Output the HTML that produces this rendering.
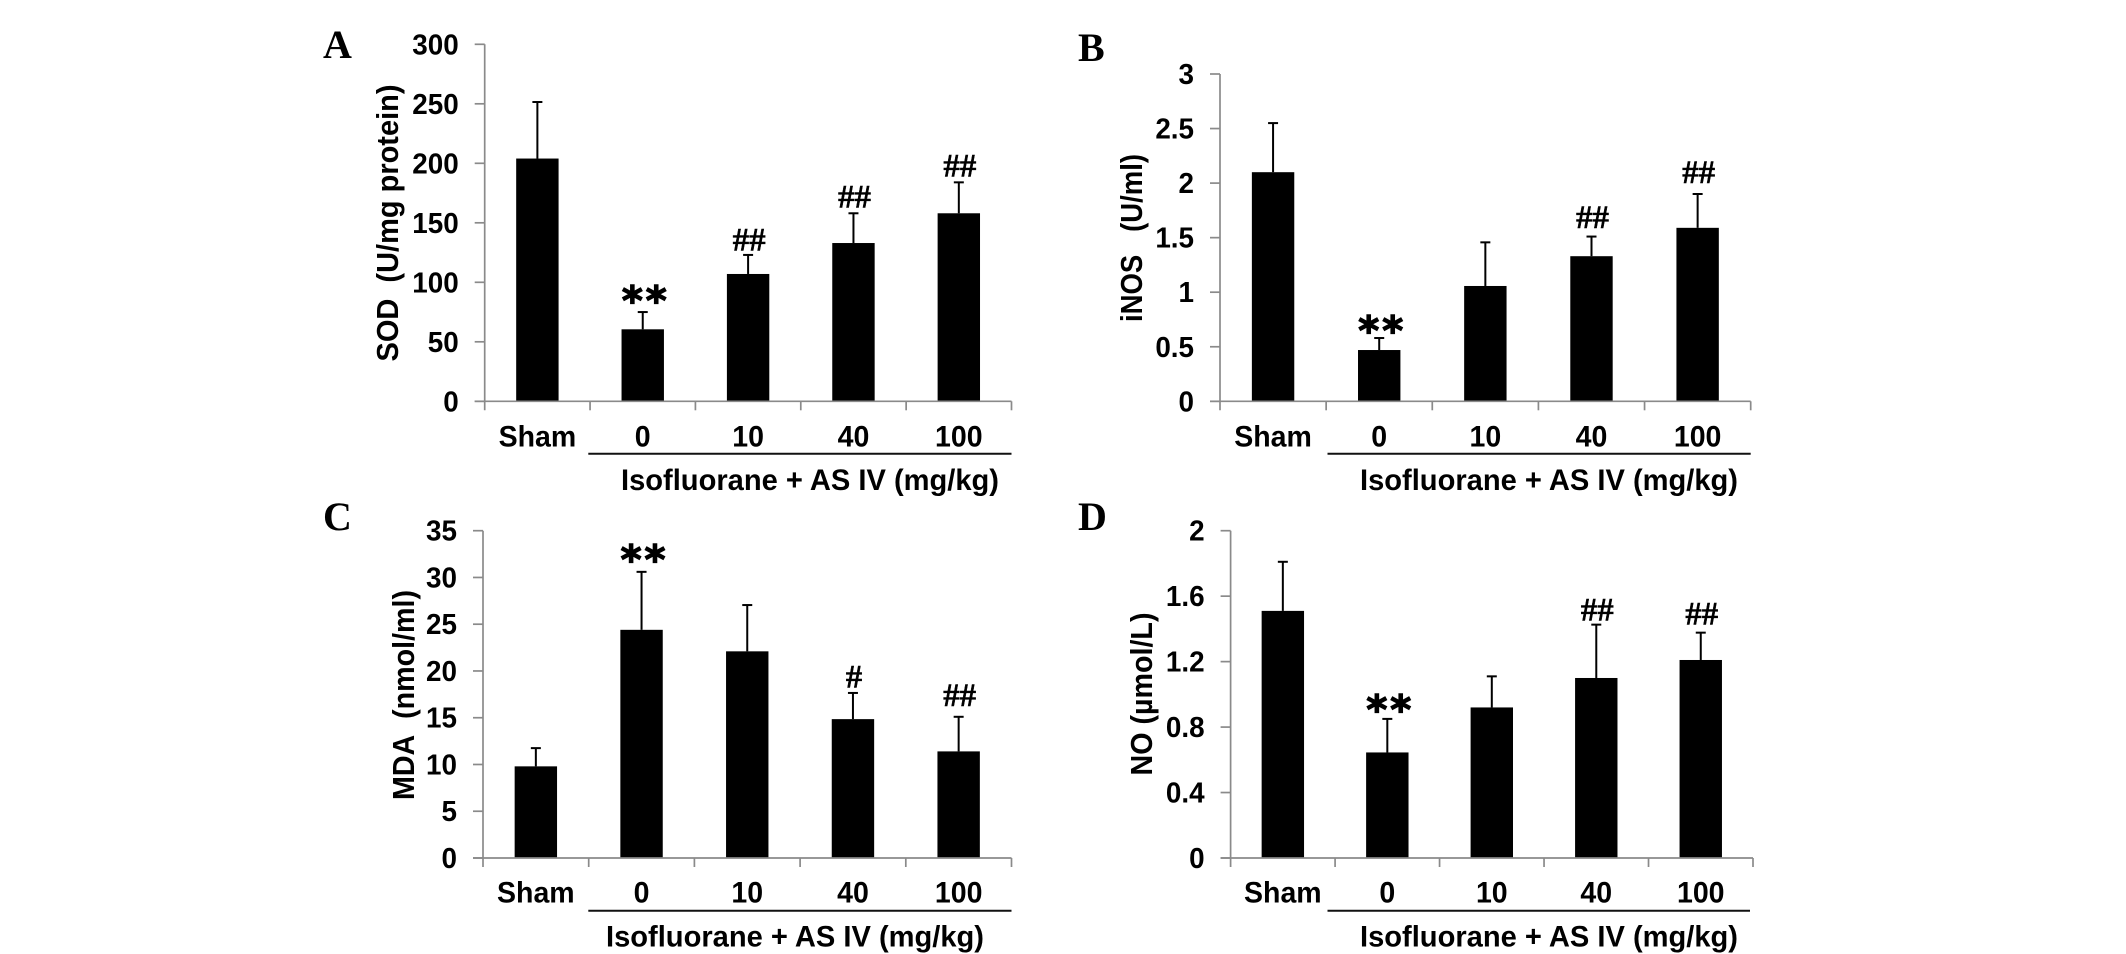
<!DOCTYPE html>
<html lang="en">
<head>
<meta charset="utf-8">
<title>Isofluorane + AS IV biochemical markers</title>
<style>
html,body{margin:0;padding:0;background:#fff;width:2126px;height:954px;overflow:hidden}
svg{display:block}
text{font-family:"Liberation Sans",sans-serif;font-weight:bold;fill:#000}
.serif{font-family:"Liberation Serif",serif}
.stars{font-family:"DejaVu Sans",sans-serif;letter-spacing:3px}
</style>
</head>
<body>
<svg id="fig" width="2126" height="954" viewBox="0 0 2126 954" xmlns="http://www.w3.org/2000/svg"></svg>
<script>
// Shared categories
const categories = ['Sham', '0', '10', '40', '100'];

// Panel A: SOD
const aTicks = ['0', '50', '100', '150', '200', '250', '300'];
const aValues = [204, 60.5, 107, 133, 158];
const aErrors = [47.5, 14.5, 16, 25, 26];
const aMarks = ['', '**', '##', '##', '##'];

// Panel B: iNOS
const bTicks = ['0', '0.5', '1', '1.5', '2', '2.5', '3'];
const bValues = [2.1, 0.47, 1.057, 1.33, 1.59];
const bErrors = [0.45, 0.11, 0.4, 0.18, 0.31];
const bMarks = ['', '**', '', '##', '##'];

// Panel C: MDA
const cTicks = ['0', '5', '10', '15', '20', '25', '30', '35'];
const cValues = [9.8, 24.4, 22.1, 14.85, 11.4];
const cErrors = [1.95, 6.2, 4.95, 2.8, 3.7];
const cMarks = ['', '**', '', '#', '##'];

// Panel D: NO
const dTicks = ['0', '0.4', '0.8', '1.2', '1.6', '2'];
const dValues = [1.51, 0.645, 0.92, 1.1, 1.21];
const dErrors = [0.3, 0.205, 0.19, 0.326, 0.167];
const dMarks = ['', '**', '', '##', '##'];

const NS = 'http://www.w3.org/2000/svg';
const fig = document.getElementById('fig');

function make(tag, attrs, parent, content) {
  const node = document.createElementNS(NS, tag);
  for (const k in attrs) node.setAttribute(k, attrs[k]);
  if (content !== undefined) node.textContent = content;
  parent.appendChild(node);
  return node;
}

function drawPanel(p) {
  const g = make('g', {}, fig);
  
  

  const yMax = Number(p.ticks[p.ticks.length - 1]);
  const y = v => p.bottom - (v / yMax) * (p.bottom - p.top);
  const band = (p.right - p.left) / categories.length;
  const x = i => p.left + band * (i + 0.5);

  const letter = make('text', {x: p.letterX, y: p.letterY, 'font-size': 40, class: 'serif'}, g, p.letter);
  
  

  const title = make('text', {
    x: 0, y: 0, 'font-size': 31, 'text-anchor': 'middle', 'xml:space': 'preserve',
    textLength: p.titleLen, lengthAdjust: 'spacingAndGlyphs',
    transform: 'translate(' + p.titleX + ',' + p.titleY + ') rotate(-90)'
  }, g, p.title);
  
  

  const axisStyle = {stroke: '#8a8a8a', 'stroke-width': 1.7, fill: 'none'};

  const yAxis = make('line', Object.assign({x1: p.left, x2: p.left, y1: p.top, y2: p.bottom + 9}, axisStyle), g);
  
  

  const xAxis = make('line', Object.assign({x1: p.left - 10, x2: p.right, y1: p.bottom, y2: p.bottom}, axisStyle), g);
  
  

  p.ticks.forEach(t => {
    const v = Number(t);
    const tick = make('line', Object.assign({x1: p.left - 10, x2: p.left, y1: y(v), y2: y(v)}, axisStyle), g);
    
    
    const label = make('text', {
      x: 0, y: 0, 'font-size': 29, 'text-anchor': 'end',
      transform: 'translate(' + (p.left - 26) + ',' + (y(v) + 10) + ') scale(0.96,1)'
    }, g, t);
    
    
  });

  for (let i = 1; i <= categories.length; i++) {
    const tx = p.left + band * i;
    const tick = make('line', Object.assign({x1: tx, x2: tx, y1: p.bottom, y2: p.bottom + 9}, axisStyle), g);
    
    
  }

  const barW = 42.4;
  categories.forEach((c, i) => {
    const top = y(p.values[i]);
    const errTop = y(p.values[i] + p.errors[i]);

    const stem = make('line', {x1: x(i), x2: x(i), y1: top, y2: errTop, stroke: '#000', 'stroke-width': 2}, g);
    
    

    const cap = make('line', {x1: x(i) - 5, x2: x(i) + 5, y1: errTop, y2: errTop, stroke: '#000', 'stroke-width': 2}, g);
    
    

    const bar = make('rect', {x: x(i) - barW / 2, y: top, width: barW, height: p.bottom - top - 0.8, fill: '#000'}, g);
    
    

    const catLabel = make('text', {
      x: 0, y: 0, 'font-size': 30, 'text-anchor': 'middle',
      transform: 'translate(' + x(i) + ',' + p.catY + ') scale(0.95,1)'
    }, g, c);
    
    

    const m = p.marks[i];
    if (m === '**') {
      const star = make('text', {x: x(i) + 3, y: errTop - p.markGaps[i] + 11.6, 'font-size': 40, 'text-anchor': 'middle', class: 'stars', stroke: '#000', 'stroke-width': 1.3}, g, m);
      
      
    } else if (m) {
      const hash = make('text', {x: x(i) + 1, y: errTop - p.markGaps[i], 'font-size': 33, 'text-anchor': 'middle', class: 'serif', stroke: '#000', 'stroke-width': 0.4}, g, m);
      
      
    }
  });

  const rule = make('line', {x1: p.ruleLeft, x2: p.right - (p.ruleInset || 0), y1: p.ruleY, y2: p.ruleY, stroke: '#111', 'stroke-width': 2}, g);
  
  

  const group = make('text', {x: p.groupX, y: p.groupY, 'font-size': 30, textLength: 378, lengthAdjust: 'spacingAndGlyphs'}, g, 'Isofluorane + AS IV (mg/kg)');
  
  
}

drawPanel({key: 'a', letter: 'A', letterX: 323, letterY: 58, title: 'SOD\u00a0\u00a0(U/mg protein)', titleX: 398, titleY: 223, titleLen: 277,
  left: 484.7, right: 1011.5, top: 44.3, bottom: 401.3, catY: 446.7, ruleY: 453.7, ruleLeft: 588.3, groupX: 621, groupY: 490,
  markGaps: [0, 9, 4.3, 5.6, 5.6],
  ticks: aTicks, values: aValues, errors: aErrors, marks: aMarks});
drawPanel({key: 'b', letter: 'B', letterX: 1078, letterY: 61, title: 'iNOS\u00a0\u00a0\u00a0(U/ml)', titleX: 1142, titleY: 238, titleLen: 168,
  left: 1220, right: 1750.7, top: 74, bottom: 401.3, catY: 446.7, ruleY: 453.7, ruleLeft: 1327.5, groupX: 1360, groupY: 490,
  markGaps: [0, 5, 0, 8.4, 11],
  ticks: bTicks, values: bValues, errors: bErrors, marks: bMarks});
drawPanel({key: 'c', letter: 'C', letterX: 323, letterY: 530, title: 'MDA\u00a0\u00a0(nmol/ml)', titleX: 414, titleY: 695, titleLen: 210,
  left: 483, right: 1011.5, top: 530.7, bottom: 858, catY: 902.7, ruleY: 910.7, ruleLeft: 588.3, groupX: 606, groupY: 946.7,
  markGaps: [0, 10, 0, 5.6, 11],
  ticks: cTicks, values: cValues, errors: cErrors, marks: cMarks});
drawPanel({key: 'd', letter: 'D', letterX: 1078, letterY: 530, title: 'NO (\u00b5mol/L)', titleX: 1152, titleY: 694, titleLen: 163,
  left: 1230.6, right: 1753, top: 530.7, bottom: 858, catY: 902.7, ruleY: 910.7, ruleLeft: 1327.5, ruleInset: 3, groupX: 1360, groupY: 946.7,
  markGaps: [0, 7, 0, 4.3, 8.4],
  ticks: dTicks, values: dValues, errors: dErrors, marks: dMarks});
</script>
</body>
</html>
